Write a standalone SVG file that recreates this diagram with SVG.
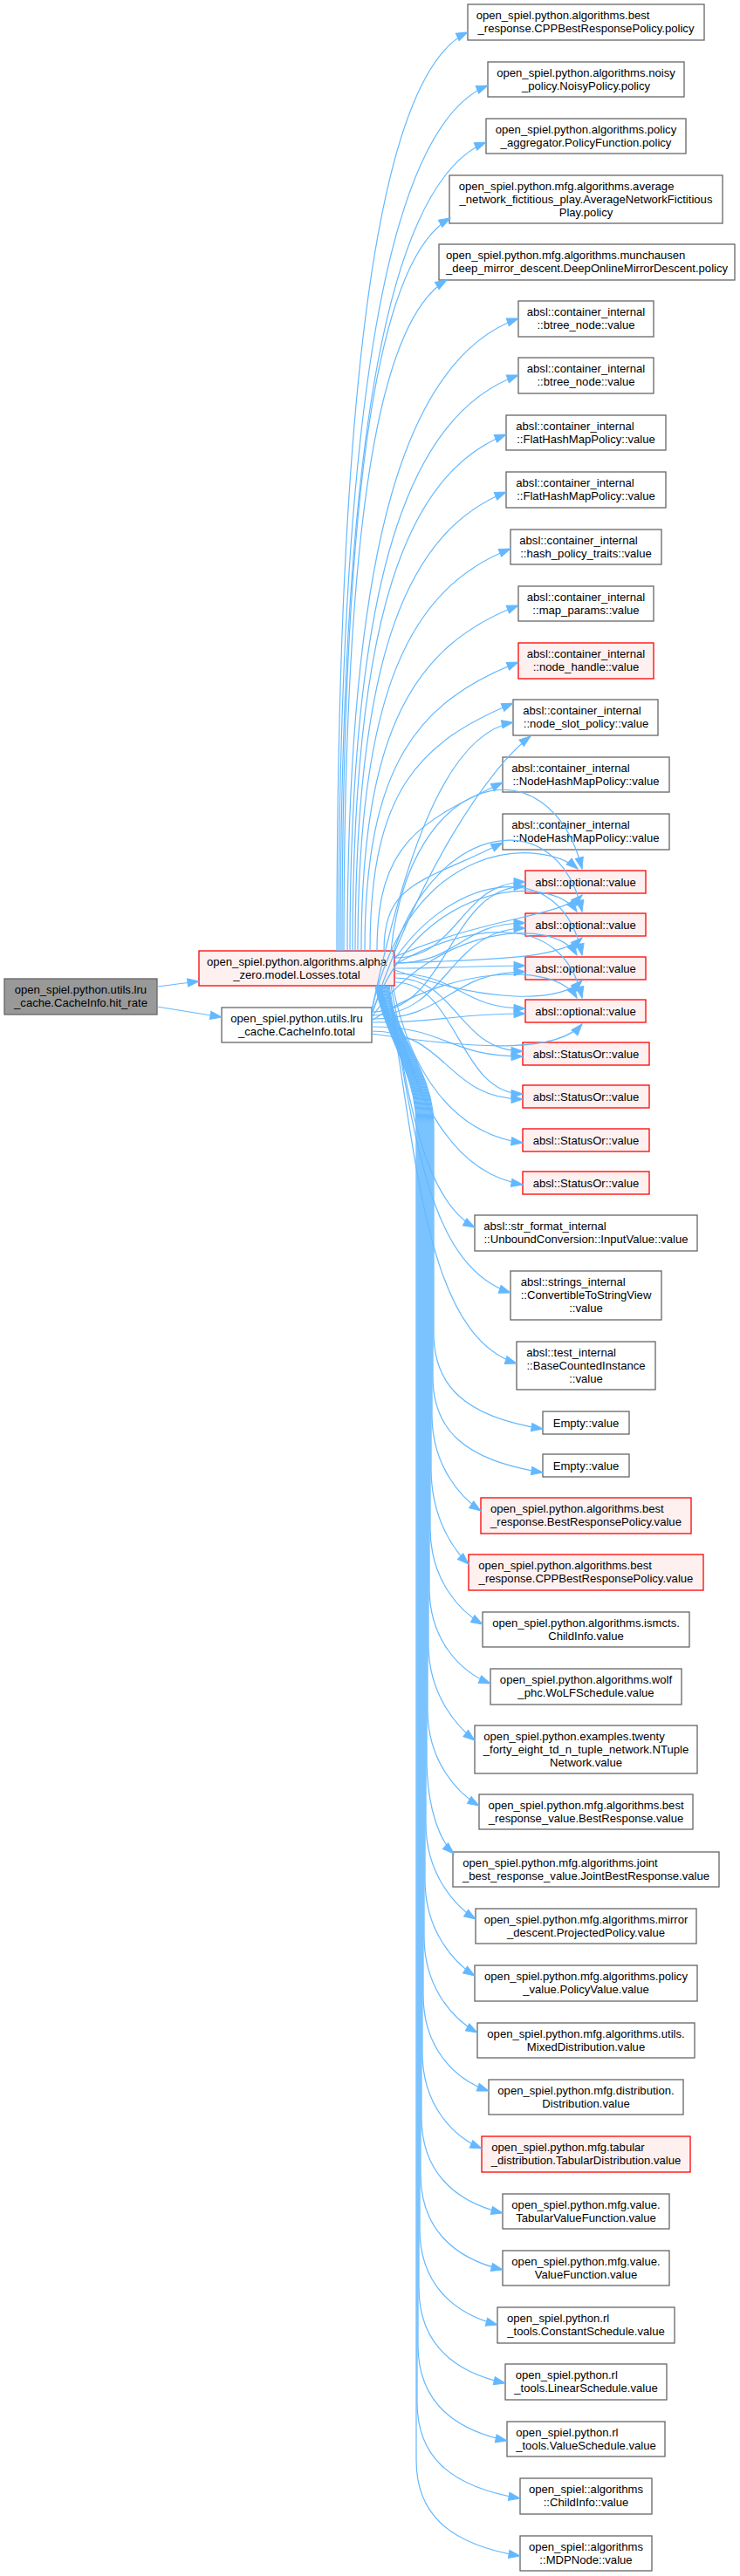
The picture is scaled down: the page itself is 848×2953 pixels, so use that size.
<svg xmlns="http://www.w3.org/2000/svg" width="848" height="2953" viewBox="0 0 848 2953">
<style>
.nd rect{fill:#ffffff;stroke:#666666;stroke-width:1.3}
.rd rect{fill:#fff0f0;stroke:#ff0000;stroke-width:1.3}
.rt rect{fill:#999999;stroke:#666666;stroke-width:1.3}
text{font-family:"Liberation Sans",Arial,Helvetica,sans-serif;font-size:13.1px;fill:#000000;text-anchor:middle}
text.l{text-anchor:start}
#edges path{fill:none;stroke:#63b8ff;stroke-width:1.2;marker-end:url(#ah)}
</style>
<defs>
<marker id="ah" markerUnits="userSpaceOnUse" markerWidth="16" markerHeight="12" refX="13" refY="0" orient="auto" overflow="visible">
<path d="M0,-4.6 L13,0 L0,4.6 z" fill="#63b8ff" stroke="#63b8ff" stroke-width="1"/>
</marker>
</defs>
<rect x="0" y="0" width="848" height="2953" fill="#ffffff"/>
<g id="root" class="rt"><rect x="5" y="1122" width="175" height="41"/><text class="l" x="16.7" y="1139">open_spiel.python.utils.lru</text><text x="92.5" y="1154">_cache.CacheInfo.hit_rate</text></g>
<g id="losses" class="rd"><rect x="228" y="1090" width="224" height="40"/><text x="340" y="1107">open_spiel.python.algorithms.alpha</text><text x="340" y="1122">_zero.model.Losses.total</text></g>
<g id="cachetotal" class="nd"><rect x="254" y="1155" width="172" height="40"/><text x="340" y="1172">open_spiel.python.utils.lru</text><text x="340" y="1187">_cache.CacheInfo.total</text></g>
<g id="n1" class="nd"><rect x="536" y="5" width="271" height="41"/><text class="l" x="545.7" y="22">open_spiel.python.algorithms.best</text><text x="671.5" y="37">_response.CPPBestResponsePolicy.policy</text></g>
<g id="n2" class="nd"><rect x="559" y="71" width="225" height="40"/><text x="671.5" y="88">open_spiel.python.algorithms.noisy</text><text x="671.5" y="103">_policy.NoisyPolicy.policy</text></g>
<g id="n3" class="nd"><rect x="557" y="136" width="229" height="40"/><text x="671.5" y="153">open_spiel.python.algorithms.policy</text><text x="671.5" y="168">_aggregator.PolicyFunction.policy</text></g>
<g id="n4" class="nd"><rect x="515" y="201" width="313" height="55"/><text class="l" x="525.7" y="218">open_spiel.python.mfg.algorithms.average</text><text x="671.5" y="233">_network_fictitious_play.AverageNetworkFictitious</text><text x="671.5" y="248">Play.policy</text></g>
<g id="n5" class="nd"><rect x="503" y="280" width="339" height="41"/><text class="l" x="511" y="297">open_spiel.python.mfg.algorithms.munchausen</text><text x="672.5" y="312">_deep_mirror_descent.DeepOnlineMirrorDescent.policy</text></g>
<g id="n6" class="nd"><rect x="594" y="345" width="155" height="41"/><text x="671.5" y="362">absl::container_internal</text><text x="671.5" y="377">::btree_node::value</text></g>
<g id="n7" class="nd"><rect x="594" y="410" width="155" height="41"/><text x="671.5" y="427">absl::container_internal</text><text x="671.5" y="442">::btree_node::value</text></g>
<g id="n8" class="nd"><rect x="580" y="476" width="183" height="40"/><text class="l" x="591.3" y="493">absl::container_internal</text><text x="671.5" y="508">::FlatHashMapPolicy::value</text></g>
<g id="n9" class="nd"><rect x="580" y="541" width="183" height="41"/><text class="l" x="591.3" y="558">absl::container_internal</text><text x="671.5" y="573">::FlatHashMapPolicy::value</text></g>
<g id="n10" class="nd"><rect x="585" y="607" width="173" height="40"/><text class="l" x="595.3" y="624">absl::container_internal</text><text x="671.5" y="639">::hash_policy_traits::value</text></g>
<g id="n11" class="nd"><rect x="594" y="672" width="155" height="40"/><text x="671.5" y="689">absl::container_internal</text><text x="671.5" y="704">::map_params::value</text></g>
<g id="n12" class="rd"><rect x="594" y="737" width="155" height="41"/><text x="671.5" y="754">absl::container_internal</text><text x="671.5" y="769">::node_handle::value</text></g>
<g id="n13" class="nd"><rect x="588" y="802" width="166" height="41"/><text class="l" x="599.3" y="819">absl::container_internal</text><text x="671.5" y="834">::node_slot_policy::value</text></g>
<g id="n14" class="nd"><rect x="576" y="868" width="191" height="40"/><text class="l" x="586.3" y="885">absl::container_internal</text><text x="671.5" y="900">::NodeHashMapPolicy::value</text></g>
<g id="n15" class="nd"><rect x="576" y="933" width="191" height="41"/><text class="l" x="586.3" y="950">absl::container_internal</text><text x="671.5" y="965">::NodeHashMapPolicy::value</text></g>
<g id="n16" class="rd"><rect x="602" y="998" width="138" height="26"/><text x="671" y="1015.5">absl::optional::value</text></g>
<g id="n17" class="rd"><rect x="602" y="1047" width="138" height="26"/><text x="671" y="1064.5">absl::optional::value</text></g>
<g id="n18" class="rd"><rect x="602" y="1097" width="138" height="26"/><text x="671" y="1114.5">absl::optional::value</text></g>
<g id="n19" class="rd"><rect x="602" y="1146" width="138" height="26"/><text x="671" y="1163.5">absl::optional::value</text></g>
<g id="n20" class="rd"><rect x="599" y="1195" width="145" height="26"/><text x="671.5" y="1212.5">absl::StatusOr::value</text></g>
<g id="n21" class="rd"><rect x="599" y="1244" width="145" height="26"/><text x="671.5" y="1261.5">absl::StatusOr::value</text></g>
<g id="n22" class="rd"><rect x="599" y="1294" width="145" height="26"/><text x="671.5" y="1311.5">absl::StatusOr::value</text></g>
<g id="n23" class="rd"><rect x="599" y="1343" width="145" height="26"/><text x="671.5" y="1360.5">absl::StatusOr::value</text></g>
<g id="n24" class="nd"><rect x="544" y="1393" width="255" height="41"/><text class="l" x="554.3" y="1410">absl::str_format_internal</text><text x="671.5" y="1425">::UnboundConversion::InputValue::value</text></g>
<g id="n25" class="nd"><rect x="585" y="1457" width="173" height="56"/><text class="l" x="596.7" y="1474">absl::strings_internal</text><text x="671.5" y="1489">::ConvertibleToStringView</text><text x="671.5" y="1504">::value</text></g>
<g id="n26" class="nd"><rect x="592" y="1538" width="159" height="55"/><text class="l" x="603.3" y="1555">absl::test_internal</text><text x="671.5" y="1570">::BaseCountedInstance</text><text x="671.5" y="1585">::value</text></g>
<g id="n27" class="nd"><rect x="622" y="1618" width="99" height="26"/><text x="671.5" y="1635.5">Empty::value</text></g>
<g id="n28" class="nd"><rect x="622" y="1667" width="99" height="26"/><text x="671.5" y="1684.5">Empty::value</text></g>
<g id="n29" class="rd"><rect x="551" y="1717" width="241" height="41"/><text class="l" x="562" y="1734">open_spiel.python.algorithms.best</text><text x="671.5" y="1749">_response.BestResponsePolicy.value</text></g>
<g id="n30" class="rd"><rect x="537" y="1782" width="269" height="41"/><text class="l" x="548.3" y="1799">open_spiel.python.algorithms.best</text><text x="671.5" y="1814">_response.CPPBestResponsePolicy.value</text></g>
<g id="n31" class="nd"><rect x="553" y="1848" width="237" height="40"/><text x="671.5" y="1865">open_spiel.python.algorithms.ismcts.</text><text x="671.5" y="1880">ChildInfo.value</text></g>
<g id="n32" class="nd"><rect x="562" y="1913" width="219" height="41"/><text x="671.5" y="1930">open_spiel.python.algorithms.wolf</text><text x="671.5" y="1945">_phc.WoLFSchedule.value</text></g>
<g id="n33" class="nd"><rect x="544" y="1978" width="255" height="55"/><text class="l" x="554.3" y="1995">open_spiel.python.examples.twenty</text><text x="671.5" y="2010">_forty_eight_td_n_tuple_network.NTuple</text><text x="671.5" y="2025">Network.value</text></g>
<g id="n34" class="nd"><rect x="549" y="2057" width="245" height="40"/><text x="671.5" y="2074">open_spiel.python.mfg.algorithms.best</text><text x="671.5" y="2089">_response_value.BestResponse.value</text></g>
<g id="n35" class="nd"><rect x="519" y="2123" width="305" height="40"/><text class="l" x="530.3" y="2140">open_spiel.python.mfg.algorithms.joint</text><text x="671.5" y="2155">_best_response_value.JointBestResponse.value</text></g>
<g id="n36" class="nd"><rect x="545" y="2188" width="253" height="40"/><text x="671.5" y="2205">open_spiel.python.mfg.algorithms.mirror</text><text x="671.5" y="2220">_descent.ProjectedPolicy.value</text></g>
<g id="n37" class="nd"><rect x="544" y="2253" width="255" height="41"/><text x="671.5" y="2270">open_spiel.python.mfg.algorithms.policy</text><text x="671.5" y="2285">_value.PolicyValue.value</text></g>
<g id="n38" class="nd"><rect x="547" y="2319" width="249" height="40"/><text x="671.5" y="2336">open_spiel.python.mfg.algorithms.utils.</text><text x="671.5" y="2351">MixedDistribution.value</text></g>
<g id="n39" class="nd"><rect x="560" y="2384" width="223" height="40"/><text x="671.5" y="2401">open_spiel.python.mfg.distribution.</text><text x="671.5" y="2416">Distribution.value</text></g>
<g id="n40" class="rd"><rect x="552" y="2449" width="239" height="41"/><text class="l" x="563.3" y="2466">open_spiel.python.mfg.tabular</text><text x="671.5" y="2481">_distribution.TabularDistribution.value</text></g>
<g id="n41" class="nd"><rect x="576" y="2515" width="191" height="40"/><text x="671.5" y="2532">open_spiel.python.mfg.value.</text><text x="671.5" y="2547">TabularValueFunction.value</text></g>
<g id="n42" class="nd"><rect x="576" y="2580" width="191" height="40"/><text x="671.5" y="2597">open_spiel.python.mfg.value.</text><text x="671.5" y="2612">ValueFunction.value</text></g>
<g id="n43" class="nd"><rect x="570" y="2645" width="203" height="41"/><text class="l" x="581" y="2662">open_spiel.python.rl</text><text x="671.5" y="2677">_tools.ConstantSchedule.value</text></g>
<g id="n44" class="nd"><rect x="579" y="2710" width="185" height="41"/><text class="l" x="590.7" y="2727">open_spiel.python.rl</text><text x="671.5" y="2742">_tools.LinearSchedule.value</text></g>
<g id="n45" class="nd"><rect x="581" y="2776" width="181" height="40"/><text class="l" x="591.3" y="2793">open_spiel.python.rl</text><text x="671.5" y="2808">_tools.ValueSchedule.value</text></g>
<g id="n46" class="nd"><rect x="596" y="2841" width="151" height="41"/><text x="671.5" y="2858">open_spiel::algorithms</text><text x="671.5" y="2873">::ChildInfo::value</text></g>
<g id="n47" class="nd"><rect x="596" y="2907" width="151" height="40"/><text x="671.5" y="2924">open_spiel::algorithms</text><text x="671.5" y="2939">::MDPNode::value</text></g>
<g id="edges">
<path d="M180,1131 C195,1129 210,1127 228,1125"/>
<path d="M180,1154 C205,1158 230,1162 254,1166"/>
<path d="M386,1090 C386,406 438,82 536,37"/>
<path d="M388,1090 C388,445 448,143 559,98"/>
<path d="M390,1090 C390,487 448,208 557,163"/>
<path d="M392,1090 C392,544 435,295 516,250"/>
<path d="M394,1090 C394,590 435,366 512,321"/>
<path d="M398,1090 C398,619 467,410 594,365"/>
<path d="M401,1090 C401,661 469,475 594,430"/>
<path d="M404,1090 C404,705 466,543 580,498"/>
<path d="M407,1090 C407,748 468,609 580,564"/>
<path d="M410,1090 C410,790 471,674 585,629"/>
<path d="M414,1090 C414,833 477,739 594,694"/>
<path d="M418,1090 C418,875 480,804 594,759"/>
<path d="M424,1090 C424,905 481,851 588,806"/>
<path d="M426,1158 C470,950 520,840 588,828"/>
<path d="M426,1163 C480,1000 560,880 608,844"/>
<path d="M432,1090 C432,965 482,942 576,897"/>
<path d="M440,1090 C440,1009 488,1011 576,966"/>
<path d="M448,1090 C470,880 630,850 667,996"/>
<path d="M426,1158 C470,960 620,960 662,996"/>
<path d="M450,1094 C500,940 640,920 667,1045"/>
<path d="M426,1162 C480,1010 630,1000 661,1045"/>
<path d="M452,1100 C520,1000 645,980 667,1095"/>
<path d="M426,1166 C500,1060 635,1050 661,1095"/>
<path d="M452,1106 C530,1060 645,1040 667,1144"/>
<path d="M426,1170 C510,1110 635,1100 661,1144"/>
<path d="M452,1097 C560,1050 640,1052 667,1026"/>
<path d="M452,1104 C560,1100 640,1100 667,1075"/>
<path d="M452,1112 C560,1150 640,1150 667,1124"/>
<path d="M426,1185 C560,1205 640,1205 667,1174"/>
<path d="M452,1098 C527,1098 527,1011 602,1011"/>
<path d="M426,1160 C514,1160 514,1016 602,1016"/>
<path d="M452,1104 C527,1104 527,1058 602,1058"/>
<path d="M426,1164 C514,1164 514,1064 602,1064"/>
<path d="M452,1110 C527,1110 527,1107 602,1107"/>
<path d="M426,1168 C514,1168 514,1114 602,1114"/>
<path d="M452,1116 C527,1116 527,1156 602,1156"/>
<path d="M426,1172 C514,1172 514,1162 602,1162"/>
<path d="M452,1121 C525,1121 525,1205 599,1205"/>
<path d="M426,1177 C512,1177 512,1211 599,1211"/>
<path d="M452,1126 C525,1126 525,1254 599,1254"/>
<path d="M426,1182 C512,1182 512,1260 599,1260"/>
<path d="M450,1130 C470,1230 520,1300 599,1310"/>
<path d="M448,1130 C470,1260 520,1345 599,1358"/>
<path d="M446,1130 C468,1260 485,1375 544,1407"/>
<path d="M445,1130 C475,1300 490,1450 585,1482"/>
<path d="M444,1130 C478,1330 488,1530 592,1563"/>
<path d="M443,1130 C455,1190 497,1230 497,1290 L497,1528 C497,1588 532,1624 622,1638"/>
<path d="M442,1130 C454,1190 496,1230 496,1290 L496,1578 C496,1638 531,1674 622,1688"/>
<path d="M441,1130 C453,1190 495,1230 495,1290 L495,1622 C495,1682 530,1718 551,1732"/>
<path d="M440,1130 C452,1190 494,1230 494,1290 L494,1683 C494,1743 522,1779 537,1793"/>
<path d="M439,1130 C451,1190 493,1230 493,1290 L493,1752 C493,1812 528,1848 553,1862"/>
<path d="M438,1130 C450,1190 492,1230 492,1290 L492,1820 C492,1880 527,1916 562,1930"/>
<path d="M437,1130 C449,1190 491,1230 491,1290 L491,1885 C491,1945 526,1981 544,1995"/>
<path d="M436.5,1130 C448,1190 490,1230 490,1290 L490,1960 C490,2020 525,2056 549,2070"/>
<path d="M436,1130 C448,1190 489,1230 489,1290 L489,2015 C489,2075 505,2111 520,2125"/>
<path d="M435.5,1130 C447,1190 488,1230 488,1290 L488,2090 C488,2150 523,2186 545,2200"/>
<path d="M435,1130 C447,1190 487,1230 487,1290 L487,2155 C487,2215 522,2251 544,2265"/>
<path d="M434.5,1130 C446,1190 486,1230 486,1290 L486,2220 C486,2280 521,2316 547,2330"/>
<path d="M434,1130 C446,1190 485,1230 485,1290 L485,2287 C485,2347 520,2383 560,2397"/>
<path d="M433.5,1130 C445,1190 484,1230 484,1290 L484,2353 C484,2413 519,2449 552,2463"/>
<path d="M433,1130 C445,1190 483,1230 483,1290 L483,2427 C483,2487 518,2523 576,2537"/>
<path d="M432.5,1130 C444,1190 482,1230 482,1290 L482,2492 C482,2552 517,2588 576,2602"/>
<path d="M432,1130 C444,1190 481,1230 481,1290 L481,2555 C481,2615 516,2651 570,2665"/>
<path d="M431.5,1130 C443,1190 480,1230 480,1290 L480,2622 C480,2682 515,2718 579,2732"/>
<path d="M431,1130 C443,1190 479,1230 479,1290 L479,2688 C479,2748 514,2784 581,2798"/>
<path d="M430.5,1130 C442,1190 478,1230 478,1290 L478,2754 C478,2814 513,2850 596,2864"/>
<path d="M430,1130 C442,1190 477,1230 477,1290 L477,2820 C477,2880 512,2916 596,2930"/>
</g>
</svg>
